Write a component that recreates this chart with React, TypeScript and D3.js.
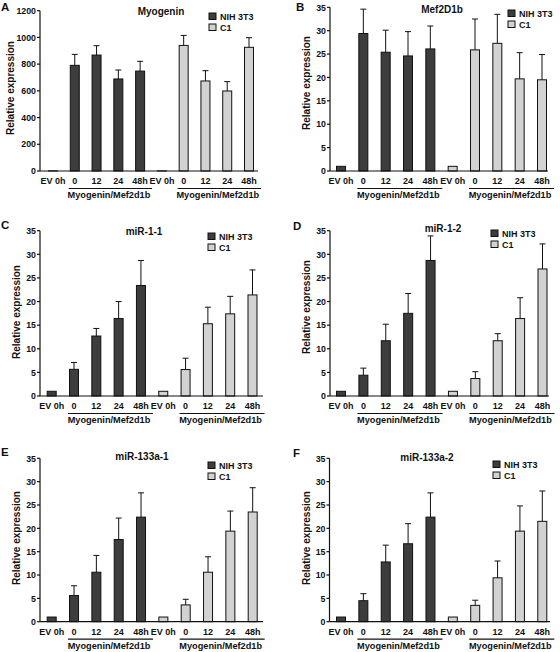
import React from "react";
import * as d3 from "d3";

// ---- data ----
const categories = ["EV 0h", "0", "12", "24", "48h", "EV 0h", "0", "12", "24", "48h"];
const seriesNames = ["NIH 3T3", "C1"];
const groupLabel = "Myogenin/Mef2d1b";
const yLabel = "Relative expression";

const myogeninNIH = [1, 791, 868, 689, 748];
const myogeninNIHErr = [0, 82, 70, 67, 73];
const myogeninC1 = [1, 940, 674, 599, 926];
const myogeninC1Err = [0, 75, 77, 70, 72];

const mef2NIH = [1, 29.4, 25.4, 24.6, 26.1];
const mef2NIHErr = [0, 5.2, 4.7, 5.2, 4.9];
const mef2C1 = [1, 25.9, 27.3, 19.7, 19.5];
const mef2C1Err = [0, 6.6, 6.2, 5.6, 5.4];

const mir11NIH = [1, 5.65, 12.7, 16.4, 23.4];
const mir11NIHErr = [0, 1.45, 1.6, 3.6, 5.3];
const mir11C1 = [1, 5.6, 15.3, 17.4, 21.4];
const mir11C1Err = [0, 2.4, 3.5, 3.7, 5.3];

const mir12NIH = [1, 4.4, 11.7, 17.5, 28.7];
const mir12NIHErr = [0, 1.5, 3.5, 4.2, 5.2];
const mir12C1 = [1, 3.7, 11.7, 16.4, 26.9];
const mir12C1Err = [0, 1.45, 1.5, 4.4, 5.3];

const mir133a1NIH = [1, 5.6, 10.6, 17.6, 22.4];
const mir133a1NIHErr = [0, 2.1, 3.6, 4.6, 5.2];
const mir133a1C1 = [1, 3.6, 10.6, 19.4, 23.5];
const mir133a1C1Err = [0, 1.2, 3.3, 4.3, 5.2];

const mir133a2NIH = [1, 4.5, 12.8, 16.7, 22.4];
const mir133a2NIHErr = [0, 1.5, 3.6, 4.3, 5.2];
const mir133a2C1 = [1, 3.5, 9.4, 19.4, 21.5];
const mir133a2C1Err = [0, 1.1, 3.6, 5.4, 6.5];

const ticksMyogenin = [0, 200, 400, 600, 800, 1000, 1200];
const ticks35 = [0, 5, 10, 15, 20, 25, 30, 35];

// ---- layout ----
const COLORS = ["#3d3d3d", "#d2d2d2"];
const FONT = "'Liberation Sans', Arial, sans-serif";

type PanelCfg = {
  letter: string;
  title: string;
  nih: number[];
  nihErr: number[];
  c1: number[];
  c1Err: number[];
  ticks: number[];
  axisX: number;
  axisEnd: number;
  first: number;
  last: number;
  yTop: number;
  yBottom: number;
  letterPos: [number, number];
  titlePos: [number, number];
  legendPos: [number, number];
  yLabelPos: [number, number];
};

const panels: PanelCfg[] = [
  {
    letter: "A", title: "Myogenin",
    nih: myogeninNIH, nihErr: myogeninNIHErr, c1: myogeninC1, c1Err: myogeninC1Err,
    ticks: ticksMyogenin,
    axisX: 40, axisEnd: 258, first: 53, last: 249, yTop: 10.7, yBottom: 171,
    letterPos: [1, 11], titlePos: [161, 14.5], legendPos: [209, 13], yLabelPos: [14, 88],
  },
  {
    letter: "B", title: "Mef2D1b",
    nih: mef2NIH, nihErr: mef2NIHErr, c1: mef2C1, c1Err: mef2C1Err,
    ticks: ticks35,
    axisX: 330, axisEnd: 548, first: 341, last: 542, yTop: 7.3, yBottom: 171,
    letterPos: [296, 10.5], titlePos: [442, 13], legendPos: [508, 10], yLabelPos: [310, 83],
  },
  {
    letter: "C", title: "miR-1-1",
    nih: mir11NIH, nihErr: mir11NIHErr, c1: mir11C1, c1Err: mir11C1Err,
    ticks: ticks35,
    axisX: 40, axisEnd: 263, first: 51.7, last: 252.5, yTop: 230.7, yBottom: 396,
    letterPos: [1, 229], titlePos: [144, 235], legendPos: [208, 233], yLabelPos: [20, 312],
  },
  {
    letter: "D", title: "miR-1-2",
    nih: mir12NIH, nihErr: mir12NIHErr, c1: mir12C1, c1Err: mir12C1Err,
    ticks: ticks35,
    axisX: 330, axisEnd: 549, first: 341, last: 542.5, yTop: 230.7, yBottom: 396,
    letterPos: [293, 230], titlePos: [443, 232], legendPos: [491, 230], yLabelPos: [310, 307],
  },
  {
    letter: "E", title: "miR-133a-1",
    nih: mir133a1NIH, nihErr: mir133a1NIHErr, c1: mir133a1C1, c1Err: mir133a1C1Err,
    ticks: ticks35,
    axisX: 40, axisEnd: 263, first: 51.7, last: 252.7, yTop: 458.3, yBottom: 621.7,
    letterPos: [1, 456], titlePos: [142, 460], legendPos: [208, 462], yLabelPos: [20, 538],
  },
  {
    letter: "F", title: "miR-133a-2",
    nih: mir133a2NIH, nihErr: mir133a2NIHErr, c1: mir133a2C1, c1Err: mir133a2C1Err,
    ticks: ticks35,
    axisX: 329.5, axisEnd: 550, first: 341, last: 542.3, yTop: 458.3, yBottom: 621.7,
    letterPos: [293, 457], titlePos: [427, 461], legendPos: [493, 461], yLabelPos: [310, 538],
  },
];

function Panel({ p }: { p: PanelCfg }) {
  const maxV = p.ticks[p.ticks.length - 1];
  const y = d3.scaleLinear().domain([0, maxV]).range([p.yBottom, p.yTop]);
  const x = d3.scalePoint<number>().domain(d3.range(categories.length)).range([p.first, p.last]);
  const values = [...p.nih, ...p.c1];
  const errs = [...p.nihErr, ...p.c1Err];
  const barW = 9;
  const capW = 6;
  const groups = [
    [1, 4],
    [6, 9],
  ];
  return (
    <g>
      <text x={p.letterPos[0]} y={p.letterPos[1]} fontSize={11.5} fontWeight="bold">{p.letter}</text>
      <text x={p.titlePos[0]} y={p.titlePos[1]} fontSize={10} fontWeight="bold" textAnchor="middle">{p.title}</text>
      {/* legend */}
      {seriesNames.map((s, i) => (
        <g key={s}>
          <rect x={p.legendPos[0]} y={p.legendPos[1] + i * 11} width={7} height={6.5} fill={COLORS[i]} stroke="#111" strokeWidth={1} />
          <text x={p.legendPos[0] + 11} y={p.legendPos[1] + i * 11 + 6.8} fontSize={9} fontWeight="bold">{s}</text>
        </g>
      ))}
      {/* y label */}
      <text transform={`translate(${p.yLabelPos[0]},${p.yLabelPos[1]}) rotate(-90)`} fontSize={10} fontWeight="bold" textAnchor="middle">{yLabel}</text>
      {/* bars */}
      {values.map((v, i) => {
        const cx = x(i)!;
        const series = i < 5 ? 0 : 1;
        return (
          <g key={i}>
            <rect x={cx - barW / 2} y={y(v)} width={barW} height={Math.max(0, p.yBottom - y(v))} fill={COLORS[series]} stroke="#111" strokeWidth={1} />
            {errs[i] > 0 && (
              <g stroke="#111" strokeWidth={1}>
                <line x1={cx} x2={cx} y1={y(v)} y2={y(v + errs[i])} />
                <line x1={cx - capW / 2} x2={cx + capW / 2} y1={y(v + errs[i])} y2={y(v + errs[i])} />
              </g>
            )}
          </g>
        );
      })}
      {/* y axis */}
      <line x1={p.axisX} x2={p.axisX} y1={y(maxV)} y2={p.yBottom} stroke="#111" strokeWidth={1.2} />
      {p.ticks.map((t) => (
        <g key={t}>
          <line x1={p.axisX - 3} x2={p.axisX} y1={y(t)} y2={y(t)} stroke="#111" strokeWidth={1.2} />
          <text x={p.axisX - 4} y={y(t) + 3.2} fontSize={8.8} fontWeight="bold" textAnchor="end">{t}</text>
        </g>
      ))}
      {/* x axis */}
      <line x1={p.axisX} x2={p.axisEnd} y1={p.yBottom} y2={p.yBottom} stroke="#111" strokeWidth={1.2} />
      {categories.map((c, i) => (
        <text key={i} x={x(i)!} y={p.yBottom + 13} fontSize={9} fontWeight="bold" textAnchor="middle">{c}</text>
      ))}
      {groups.map(([a, b], gi) => {
        const x1 = x(a)! - 6;
        const x2 = x(b)! + 12;
        return (
          <g key={gi}>
            <line x1={x1} x2={x2} y1={p.yBottom + 17.5} y2={p.yBottom + 17.5} stroke="#111" strokeWidth={1.2} />
            <text x={(x(a)! + x(b)!) / 2 + 1.5} y={p.yBottom + 27} fontSize={9.2} fontWeight="bold" textAnchor="middle">{groupLabel}</text>
          </g>
        );
      })}
    </g>
  );
}

export default function App() {
  return (
    <svg width={560} height={652} style={{ position: "absolute", left: 0, top: 0, background: "#fff" }} fontFamily={FONT} fill="#111">
      <rect x={0} y={0} width={560} height={652} fill="#fff" />
      {panels.map((p) => (
        <Panel key={p.letter} p={p} />
      ))}
    </svg>
  );
}
